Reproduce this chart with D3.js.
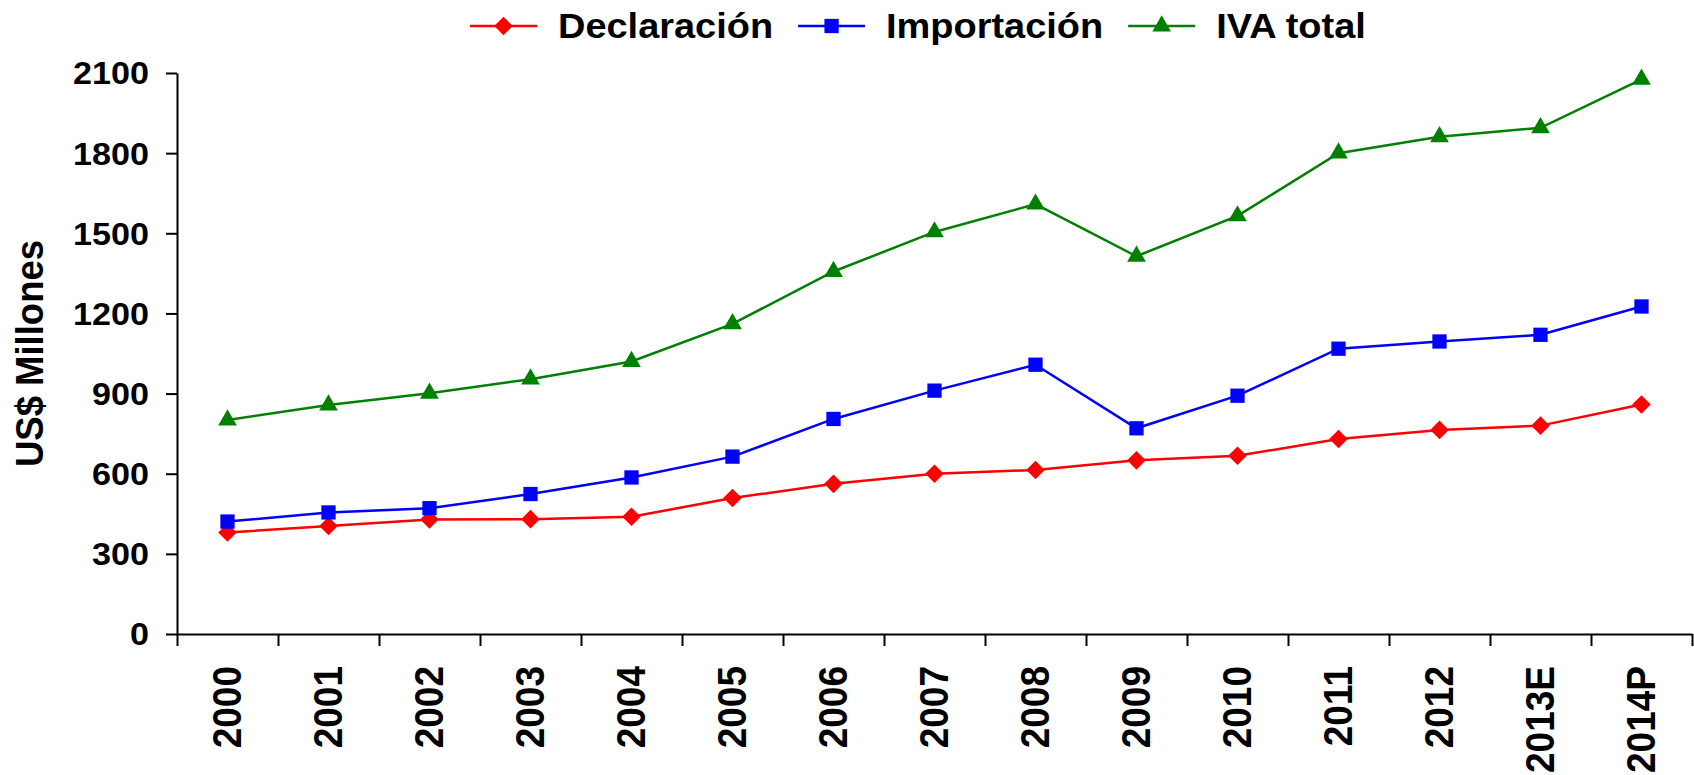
<!DOCTYPE html>
<html>
<head>
<meta charset="utf-8">
<script src="https://cdn.jsdelivr.net/npm/d3@7"></script>
<style>
  body { margin: 0; background: #fff; }
  text { font-family: "Liberation Sans", Arial, sans-serif; font-weight: bold; fill: #000; }
</style>
</head>
<body>
<svg id="chart" width="1694" height="775"></svg>
<script>
// data
const years = ["2000","2001","2002","2003","2004","2005","2006","2007","2008","2009","2010","2011","2012","2013E","2014P"];
const declaracion = [380, 404, 429, 430, 439, 509, 562, 600, 614, 650, 667, 730, 764, 780, 859];
const importacion = [421, 455, 471, 524, 586, 664, 805, 911, 1008, 770, 892, 1068, 1095, 1120, 1226];
const ivaTotal = [801, 857, 901, 954, 1020, 1161, 1357, 1505, 1609, 1414, 1565, 1800, 1861, 1895, 2076];
const yTicks = [0, 300, 600, 900, 1200, 1500, 1800, 2100];

const series = [
  {name: "Declaración", values: declaracion, color: "#ff0000", symbol: d3.symbolDiamond2, size: 220},
  {name: "Importación", values: importacion, color: "#0000ff", symbol: d3.symbolSquare2, size: 260},
  {name: "IVA total", values: ivaTotal, color: "#008000", symbol: d3.symbolTriangle2, size: 250}
];

const mLeft = 177, mRight = 1692, mTop = 73, mBottom = 634;
const svg = d3.select("#chart");

const x = d3.scaleBand(years, [mLeft, mRight]);
const xEdge = d3.scaleLinear([0, years.length], [mLeft, mRight]);
const y = d3.scaleLinear([0, 2100], [mBottom, mTop]);

// y axis
const gy = svg.append("g")
  .attr("transform", "translate(" + mLeft + ",0)")
  .call(d3.axisLeft(y).tickValues(yTicks).tickFormat(d3.format("d")).tickSize(11).tickSizeOuter(0));
gy.select(".domain").attr("stroke-width", 2);
gy.selectAll(".tick line").attr("stroke-width", 2);
gy.selectAll(".tick text")
  .attr("x", 0).attr("dy", "0.36em")
  .attr("transform", "translate(-28,0) scale(1.12,1)")
  .style("font-size", "30.5px");

// x axis: ticks between categories
const gx = svg.append("g")
  .attr("transform", "translate(0," + mBottom + ")")
  .call(d3.axisBottom(xEdge).tickValues(d3.range(years.length + 1)).tickFormat("").tickSize(12).tickSizeOuter(0));
gx.select(".domain").attr("stroke-width", 2);
gx.selectAll(".tick line").attr("stroke-width", 2);

// x labels, rotated
const gl = svg.append("g")
  .attr("transform", "translate(0," + mBottom + ")")
  .call(d3.axisBottom(x).tickSize(0));
gl.select(".domain").remove();
gl.selectAll(".tick text")
  .attr("x", 0).attr("y", 0).attr("dy", "0.35em")
  .attr("text-anchor", "end")
  .attr("transform", "translate(0,32) scale(1.08,1) rotate(-90)")
  .style("font-size", "37px");

// y title
svg.append("text")
  .attr("transform", "translate(29," + ((mTop + mBottom) / 2) + ") scale(1.08,1) rotate(-90)")
  .attr("text-anchor", "middle")
  .attr("dy", "0.35em")
  .style("font-size", "36.5px")
  .text("US$ Millones");

// lines and markers
const line = d3.line().x((d, i) => x(years[i]) + x.bandwidth() / 2).y(d => y(d));
series.forEach(s => {
  svg.append("path")
    .attr("d", line(s.values))
    .attr("fill", "none")
    .attr("stroke", s.color)
    .attr("stroke-width", 2.5);
  svg.append("g").selectAll("path")
    .data(s.values)
    .enter()
    .append("path")
    .attr("d", d3.symbol(s.symbol, s.size))
    .attr("fill", s.color)
    .attr("transform", (d, i) => "translate(" + (x(years[i]) + x.bandwidth() / 2) + "," + y(d) + ")");
});

// legend
let lx = 470;
const ly = 26;
series.forEach(s => {
  const g = svg.append("g").attr("transform", "translate(" + lx + "," + ly + ")");
  g.append("line").attr("x1", 0).attr("x2", 67).attr("stroke", s.color).attr("stroke-width", 2.5);
  g.append("path").attr("d", d3.symbol(s.symbol, s.size)).attr("fill", s.color).attr("transform", "translate(33.5,0)");
  const t = g.append("text")
    .attr("transform", "translate(88,0) scale(1.1,1)")
    .attr("dy", "0.35em")
    .style("font-size", "34.5px")
    .text(s.name);
  lx += 88 + t.node().getComputedTextLength() * 1.1 + 25;
});
</script>
</body>
</html>
